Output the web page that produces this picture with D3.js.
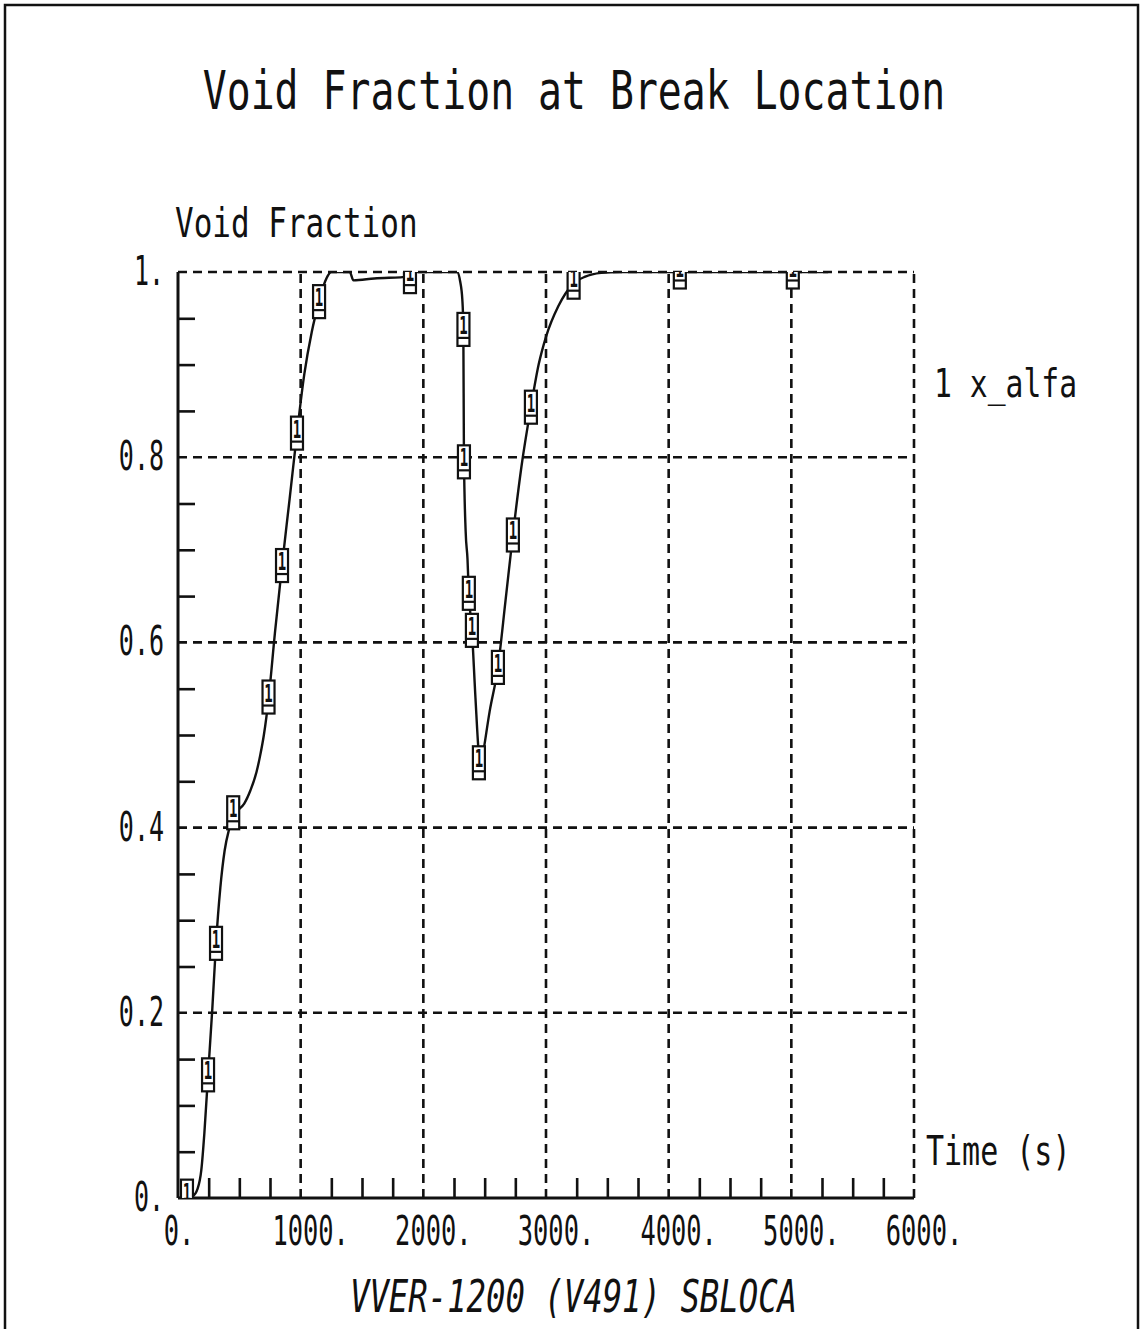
<!DOCTYPE html>
<html>
<head>
<meta charset="utf-8">
<script src="https://cdn.jsdelivr.net/npm/d3@7"></script>
<style>
  html, body { margin: 0; padding: 0; background: #fff; }
  svg { display: block; }
  text { font-family: "DejaVu Sans Mono", monospace; fill: #111; }
</style>
</head>
<body>
<svg id="chart" width="1140" height="1329"></svg>
<script>
// ---- data ----
const timeS = [0, 60, 120, 160, 190, 215, 245, 280, 310, 345, 380, 420, 450, 490, 540, 590, 640, 670, 700, 740,
  790, 848, 910, 970, 1030, 1090, 1150, 1200, 1250, 1400, 1430, 1600, 1880, 1940, 2275, 2300, 2318, 2326, 2331,
  2345, 2360, 2371, 2396, 2425, 2453, 2465, 2480, 2540, 2608, 2670, 2730, 2800, 2877, 2940, 3000, 3100, 3220,
  3320, 3450, 3600, 5300];
const voidFrac = [0.0, 0.0, 0.002, 0.01, 0.03, 0.07, 0.133, 0.205, 0.275, 0.335, 0.375, 0.40, 0.414, 0.419, 0.426,
  0.44, 0.46, 0.478, 0.50, 0.541, 0.61, 0.683, 0.755, 0.826, 0.89, 0.935, 0.968, 0.99, 1.0, 1.0, 0.991, 0.993,
  0.995, 1.0, 1.0, 0.99, 0.97, 0.94, 0.80, 0.72, 0.69, 0.653, 0.613, 0.54, 0.478, 0.465, 0.475, 0.525, 0.573,
  0.645, 0.716, 0.79, 0.854, 0.9, 0.93, 0.963, 0.987, 0.995, 0.999, 1.0, 1.0];
const markerTime = [73, 245, 310, 450, 738, 848, 970, 1150, 1891, 2327, 2331, 2371, 2396, 2453, 2608, 2730, 2877, 3225, 4091, 5012];
const markerVoid = [0.002, 0.133, 0.275, 0.416, 0.541, 0.683, 0.826, 0.968, 0.995, 0.938, 0.795, 0.653, 0.613, 0.47, 0.573, 0.716, 0.854, 0.989, 1.0, 1.0];
const markerLabel = "1";
const xTickValues = [0, 1000, 2000, 3000, 4000, 5000, 6000];
const xTickLabels = ["0.", "1000.", "2000.", "3000.", "4000.", "5000.", "6000."];
const yTickValues = [0, 0.2, 0.4, 0.6, 0.8, 1.0];
const yTickLabels = ["0.", "0.2", "0.4", "0.6", "0.8", "1."];
const xMinorTicks = d3.range(250, 6000, 250).filter(v => v % 1000 !== 0);
const yMinorTicks = d3.range(1, 20).map(i => i * 0.05).filter((v, i) => (i + 1) % 4 !== 0);
const titleText = "Void Fraction at Break Location";
const yAxisTitle = "Void Fraction";
const xAxisTitle = "Time (s)";
const legendText = "1 x_alfa";
const subtitleText = "VVER-1200 (V491) SBLOCA";

// ---- layout ----
const svg = d3.select("#chart");
const x = d3.scaleLinear().domain([0, 6000]).range([178, 914]);
const y = d3.scaleLinear().domain([0, 1]).range([1198, 272]);
const [X0, X1] = x.range();
const [Y0, Y1] = y.range();

// outer frame
svg.append("path")
  .attr("d", `M5,1329 L5,5 L1138,5 L1138,1329`)
  .attr("fill", "none").attr("stroke", "#111").attr("stroke-width", 2.5);

function scaledText(g, str, tx, ty, size, sy, anchor, italic) {
  const t = g.append("text")
    .attr("transform", `translate(${tx},${ty}) scale(1,${sy})`)
    .attr("font-size", size)
    .attr("text-anchor", anchor || "start")
    .text(str);
  if (italic) t.attr("font-style", "italic");
  return t;
}

// title
scaledText(svg, titleText, 574, 109, 39.8, 1.33, "middle");
// y axis title
scaledText(svg, yAxisTitle, 175, 237, 31, 1.33, "start");

// gridlines (dashed)
const grid = svg.append("g").attr("stroke", "#111").attr("stroke-width", 2.6).attr("stroke-dasharray", "9,6");
grid.selectAll("line.h").data(yTickValues.filter(v => v > 0)).join("line")
  .attr("class", "h")
  .attr("x1", X0).attr("x2", X1).attr("y1", d => y(d)).attr("y2", d => y(d));
grid.selectAll("line.v").data(xTickValues.filter(v => v > 0)).join("line")
  .attr("class", "v")
  .attr("y1", Y0).attr("y2", Y1).attr("x1", d => x(d)).attr("x2", d => x(d));

// minor ticks using d3 axes
const yAx = svg.append("g").attr("transform", `translate(${X0},0)`)
  .call(d3.axisRight(y).tickValues(yMinorTicks).tickSize(17).tickFormat(""));
const xAx = svg.append("g").attr("transform", `translate(0,${Y0})`)
  .call(d3.axisTop(x).tickValues(xMinorTicks).tickSize(20).tickFormat(""));
[yAx, xAx].forEach(a => {
  a.select(".domain").remove();
  a.selectAll(".tick line").attr("stroke", "#111").attr("stroke-width", 2.6);
});

// axis lines
svg.append("line").attr("x1", X0).attr("x2", X0).attr("y1", Y1).attr("y2", Y0)
  .attr("stroke", "#111").attr("stroke-width", 3);
svg.append("line").attr("x1", X0).attr("x2", X1).attr("y1", Y0).attr("y2", Y0)
  .attr("stroke", "#111").attr("stroke-width", 3);

// tick labels
const yl = svg.append("g");
yTickValues.forEach((v, i) => scaledText(yl, yTickLabels[i], 164, y(v) + 13, 25, 1.62, "end"));
const xl = svg.append("g");
xTickValues.forEach((v, i) => {
  const lab = xTickLabels[i];
  const dx = lab.length > 2 ? 10 : 1;
  scaledText(xl, lab, x(v) + dx, 1245, 25.4, 1.62, "middle");
});

// axis title, legend, subtitle
scaledText(svg, xAxisTitle, 926, 1165, 30, 1.37, "start");
scaledText(svg, legendText, 934, 397, 29.7, 1.34, "start");
scaledText(svg, subtitleText, 573.5, 1312, 32.3, 1.37, "middle", true);

// clip
svg.append("defs").append("clipPath").attr("id", "plotclip")
  .append("rect").attr("x", X0).attr("y", Y1).attr("width", X1 - X0).attr("height", Y0 - Y1);

const plot = svg.append("g").attr("clip-path", "url(#plotclip)");
const pts = timeS.map((t, i) => [t, voidFrac[i]]);
plot.append("path")
  .datum(pts)
  .attr("fill", "none").attr("stroke", "#111").attr("stroke-width", 2.4)
  .attr("d", d3.line().x(d => x(d[0])).y(d => y(d[1])).curve(d3.curveMonotoneX));

// markers
const mk = plot.selectAll("g.mk").data(markerTime.map((t, i) => [t, markerVoid[i]])).join("g")
  .attr("class", "mk")
  .attr("transform", d => `translate(${x(d[0])},${y(d[1])})`);
mk.append("rect").attr("x", -6).attr("y", -16.5).attr("width", 12).attr("height", 33)
  .attr("fill", "#fff").attr("stroke", "#111").attr("stroke-width", 2.2);
mk.append("line").attr("x1", -6).attr("x2", 6).attr("y1", 8.5).attr("y2", 8.5)
  .attr("stroke", "#111").attr("stroke-width", 2.2);
mk.append("text").attr("transform", "translate(0,4.5) scale(1,1.75)")
  .attr("font-size", 14).attr("font-weight", "bold").attr("text-anchor", "middle").text(markerLabel);
</script>
</body>
</html>
